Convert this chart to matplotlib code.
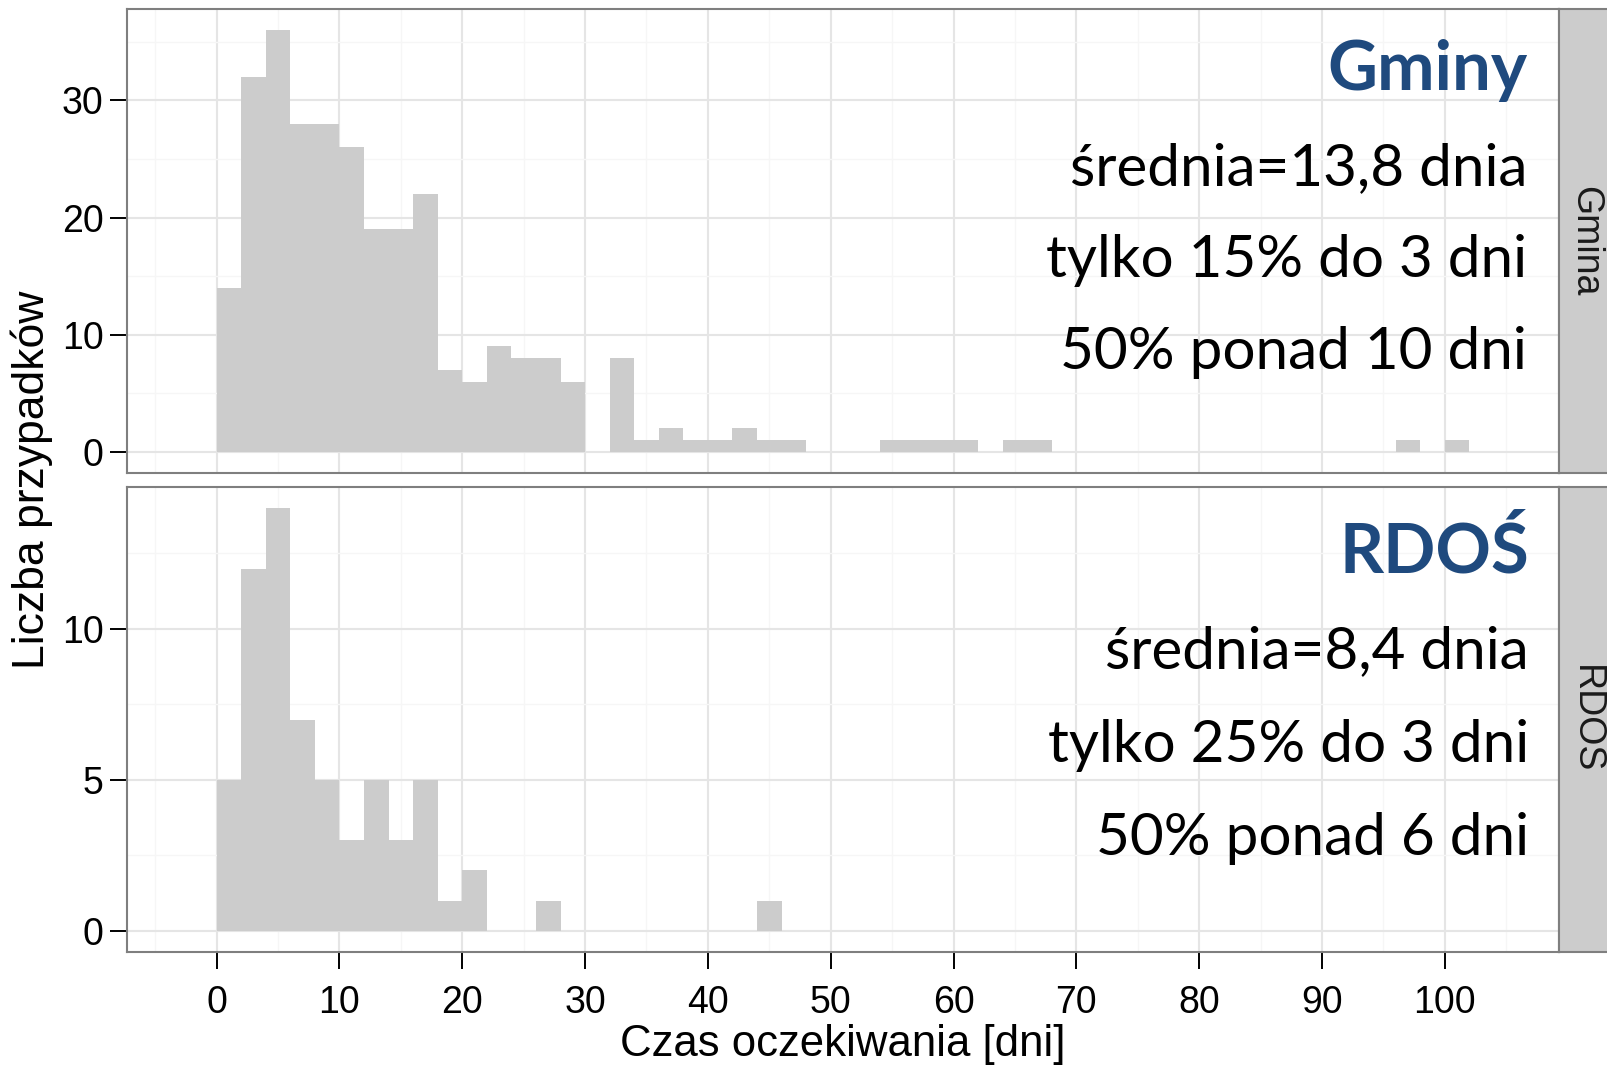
import numpy as np
import matplotlib
matplotlib.use("Agg")
import matplotlib.pyplot as plt
from matplotlib.ticker import MultipleLocator


BIN_WIDTH = 2

PANEL_NAMES = ["Gmina", "RDOS"]

# liczba przypadków w kolejnych przedziałach 2-dniowych (od 0 dni)
GMINA_COUNTS = [
    14, 32, 36, 28, 28, 26, 19, 19, 22, 7,
    6, 9, 8, 8, 6, 0, 8, 1, 2, 1,
    1, 2, 1, 1, 0, 0, 0, 1, 1, 1,
    1, 0, 1, 1, 0, 0, 0, 0, 0, 0,
    0, 0, 0, 0, 0, 0, 0, 0, 1, 0,
    1,
]
RDOS_COUNTS = [
    5, 12, 14, 7, 5, 3, 5, 3, 5, 1,
    2, 0, 0, 1, 0, 0, 0, 0, 0, 0,
    0, 0, 1,
]

GMINA_TEXT = ["Gminy", "średnia=13,8 dnia", "tylko 15% do 3 dni", "50% ponad 10 dni"]
RDOS_TEXT = ["RDOŚ", "średnia=8,4 dnia", "tylko 25% do 3 dni", "50% ponad 6 dni"]

X_LIMITS = (-7.3, 109.3)
X_TICKS = [0, 10, 20, 30, 40, 50, 60, 70, 80, 90, 100]

TICK_FONT = "Liberation Sans"
NOTE_FONT = "Lato"
TITLE_BLUE = "#1f4a7e"
BAR_GREY = "#cccccc"
BORDER_GREY = "#7f7f7f"

FIG_W, FIG_H = 1608, 1068


def px_box(left, top, right, bottom):
    return [left / FIG_W, 1 - bottom / FIG_H, (right - left) / FIG_W, (bottom - top) / FIG_H]


def style_panel(ax, major_y, ymax):
    ax.set_facecolor("white")
    ax.set_xlim(*X_LIMITS)
    ax.set_ylim(-0.05 * ymax, 1.05 * ymax)
    ax.xaxis.set_major_locator(MultipleLocator(10))
    ax.xaxis.set_minor_locator(MultipleLocator(5))
    ax.yaxis.set_major_locator(MultipleLocator(major_y))
    ax.yaxis.set_minor_locator(MultipleLocator(major_y / 2))
    ax.set_xticks(X_TICKS)

    ax.grid(which="major", color="#e5e5e5", linewidth=1.5, zorder=0)
    ax.grid(which="minor", color="#f6f6f6", linewidth=1.0, zorder=0)
    ax.set_axisbelow(True)

    for spine in ax.spines.values():
        spine.set_color(BORDER_GREY)
        spine.set_linewidth(1.5)

    ax.tick_params(which="major", length=12, width=1.4, color="black",
                   labelsize=27, pad=5)
    ax.tick_params(which="minor", length=0)
    ax.tick_params(axis="x", pad=12)
    for label in ax.get_yticklabels() + ax.get_xticklabels():
        label.set_fontfamily(TICK_FONT)


def add_notes(ax, lines, x_pos, baselines):
    for i, (text, y_pos) in enumerate(zip(lines, baselines)):
        if i == 0:
            ax.text(x_pos, y_pos, text, transform=ax.transAxes, ha="right",
                    va="baseline", fontsize=49.5, fontweight="bold",
                    color=TITLE_BLUE, fontfamily=NOTE_FONT, zorder=5)
        else:
            ax.text(x_pos, y_pos, text, transform=ax.transAxes, ha="right",
                    va="baseline", fontsize=42, color="black",
                    fontfamily=NOTE_FONT, zorder=5)


def add_strip(fig, box, label):
    sax = fig.add_axes(box)
    sax.set_facecolor(BAR_GREY)
    sax.set_xticks([])
    sax.set_yticks([])
    for spine in sax.spines.values():
        spine.set_color(BORDER_GREY)
        spine.set_linewidth(1.5)
    sax.text(0.5, 0.5, label, rotation=270, ha="center", va="center",
             fontsize=27, fontfamily=TICK_FONT, color="#1a1a1a",
             transform=sax.transAxes)


def main():
    fig = plt.figure(figsize=(FIG_W / 100, FIG_H / 100), dpi=100)
    fig.patch.set_facecolor("white")

    ax_top = fig.add_axes(px_box(127, 9, 1559, 473))
    ax_bot = fig.add_axes(px_box(127, 487, 1559, 952))

    lefts_top = np.arange(len(GMINA_COUNTS)) * BIN_WIDTH
    lefts_bot = np.arange(len(RDOS_COUNTS)) * BIN_WIDTH

    ax_top.bar(lefts_top, GMINA_COUNTS, width=BIN_WIDTH, align="edge",
               color=BAR_GREY, linewidth=0, zorder=2)
    ax_bot.bar(lefts_bot, RDOS_COUNTS, width=BIN_WIDTH, align="edge",
               color=BAR_GREY, linewidth=0, zorder=2)

    style_panel(ax_top, 10, max(GMINA_COUNTS))
    style_panel(ax_bot, 5, max(RDOS_COUNTS))
    ax_top.tick_params(axis="x", which="both", length=0, labelbottom=False)

    add_notes(ax_top, GMINA_TEXT, 0.9777, [0.8254, 0.6207, 0.4224, 0.2241])
    add_notes(ax_bot, RDOS_TEXT, 0.979, [0.8151, 0.6108, 0.4086, 0.2086])

    add_strip(fig, px_box(1559, 9, 1612, 473), PANEL_NAMES[0])
    add_strip(fig, px_box(1559, 487, 1612, 952), PANEL_NAMES[1])

    ax_bot.set_xlabel("Czas oczekiwania [dni]", fontsize=31.5, fontfamily=TICK_FONT,
                      labelpad=2)
    fig.text(32 / FIG_W, 1 - 480 / FIG_H, "Liczba przypadków", rotation=90,
             ha="center", va="center", fontsize=32, fontfamily=TICK_FONT)

    fig.savefig("out.png", dpi=100, facecolor="white")
    plt.close(fig)


if __name__ == "__main__":
    main()
